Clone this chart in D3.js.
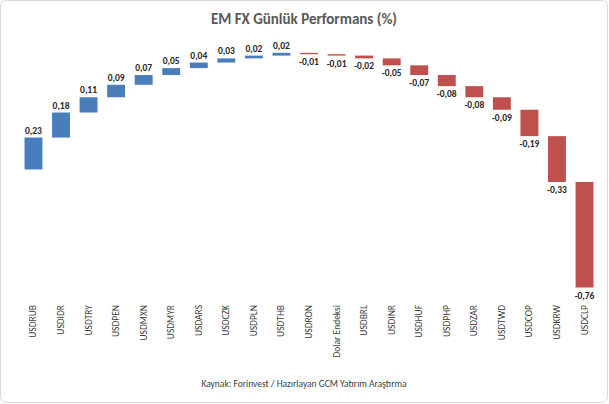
<!DOCTYPE html><html><head><meta charset="utf-8"><script src="https://cdn.jsdelivr.net/npm/d3@7"></script>
<style>body{margin:0;background:#fff}text{font-family:Calibri,Carlito,"Open Sans",sans-serif}</style></head><body><svg width="609" height="404"></svg><script>
const categories=["USDRUB","USDIDR","USDTRY","USDPEN","USDMXN","USDMYR","USDARS","USDCZK","USDPLN","USDTHB","USDRON","Dolar Endeksi","USDBRL","USDINR","USDHUF","USDPHP","USDZAR","USDTWD","USDCOP","USDKRW","USDCLP"];
const values=[0.23,0.18,0.11,0.09,0.07,0.05,0.04,0.03,0.02,0.02,-0.01,-0.01,-0.02,-0.05,-0.07,-0.08,-0.08,-0.09,-0.19,-0.33,-0.76];
const svg=d3.select("svg");
svg.append("rect").attr("x",0.5).attr("y",0.5).attr("width",607).attr("height",402).attr("rx",6).attr("fill","#fff").attr("stroke","#d9d9d9");
svg.append("text").attr("x",304).attr("y",24).attr("text-anchor","middle").attr("font-size",15).attr("font-weight","bold").attr("fill","#595959").text("EM FX Günlük Performans (%)");
const x=d3.scaleBand().domain(categories).range([19,599]).paddingInner(0.35).paddingOuter(0.2);
const y=d3.scaleLinear().domain([-0.94,0.99]).range([300,32]);
let cum=0;const data=values.map((v,i)=>{const s=cum;cum+=v;return{c:categories[i],v,s,e:cum};});
const fmt=v=>d3.format(".2f")(v).replace(".",",").replace("−","-");
const g=svg.append("g");
g.selectAll("rect.b").data(data).join("rect").attr("x",d=>x(d.c)).attr("width",x.bandwidth())
 .attr("y",d=>y(Math.max(d.s,d.e))).attr("height",d=>Math.abs(y(d.s)-y(d.e)))
 .attr("fill",d=>d.v>=0?"#4a7ebb":"#c0504d");
g.selectAll("text.l").data(data).join("text").attr("x",d=>x(d.c)+x.bandwidth()/2)
 .attr("y",d=>d.v>=0?y(d.e)-4:y(d.e)+11).attr("text-anchor","middle").attr("font-size",9.5).attr("font-weight","bold").attr("fill","#262626").text(d=>fmt(d.v));
g.selectAll("text.x").data(categories).join("text").attr("transform",d=>`translate(${x(d)+x.bandwidth()/2+3},305) rotate(-90)`)
 .attr("text-anchor","end").attr("font-size",9.5).attr("fill","#404040").text(d=>d);
svg.append("text").attr("x",304).attr("y",387).attr("text-anchor","middle").attr("font-size",9.5).attr("fill","#404040").text("Kaynak: Forinvest / Hazırlayan GCM Yatırım Araştırma");
</script></body></html>
